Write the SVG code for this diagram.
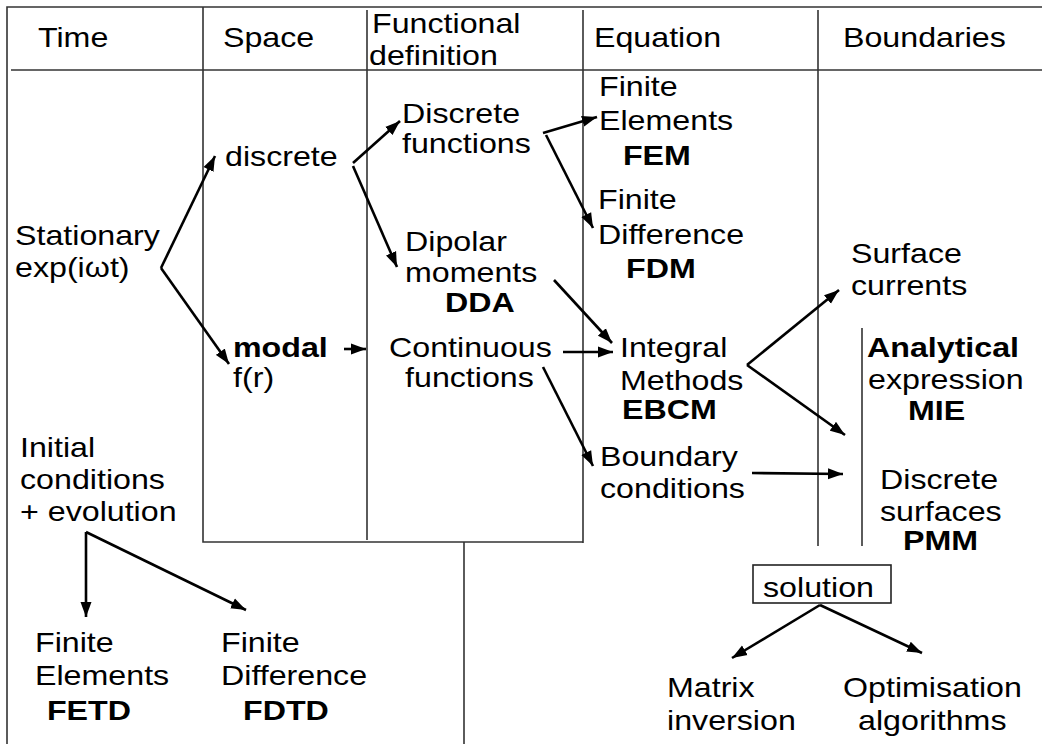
<svg xmlns="http://www.w3.org/2000/svg" width="1042" height="744" viewBox="0 0 1042 744">
  <style>
    text { font-family: "Liberation Sans", Arial, Helvetica, sans-serif; font-size: 28.5px; fill: #000; }
    .b { font-weight: bold; }
    .frame { stroke: #333; stroke-width: 1.6; fill: none; }
    .arrow { stroke: #000; stroke-width: 2.6; fill: none; marker-end: url(#head); }
  </style>
  <defs>
    <marker id="head" markerUnits="userSpaceOnUse" markerWidth="16" markerHeight="12" refX="15" refY="6" orient="auto">
      <path d="M0,0.5 L15,6 L0,11.5 z" fill="#000"/>
    </marker>
  </defs>
  <rect width="1042" height="744" fill="#fff"/>

  <!-- table grid -->
  <g id="grid" class="frame">
    <path d="M7,744 V7 H1042"/>
    <path d="M11,70 H1042"/>
    <path d="M203,7 V542 H583"/>
    <path d="M367,10 V540"/>
    <path d="M583,10 V543"/>
    <path d="M464,542 V744"/>
    <path d="M818,10 V546"/>
    <path d="M862,328 V546"/>
  </g>

  <!-- column headings -->
  <g id="headings">
    <text transform="translate(38 47) scale(1.13 1)">Time</text>
    <text transform="translate(223 47) scale(1.13 1)">Space</text>
    <text transform="translate(372 33) scale(1.13 1)"><tspan x="0" y="0">Functional</tspan><tspan x="-2.6" y="32">definition</tspan></text>
    <text transform="translate(594 47) scale(1.13 1)">Equation</text>
    <text transform="translate(843 47) scale(1.13 1)">Boundaries</text>
  </g>

  <!-- nodes -->
  <g id="stationary">
    <text transform="translate(15 245) scale(1.13 1)"><tspan x="0" y="0">Stationary</tspan><tspan x="0" y="32">exp(iωt)</tspan></text>
  </g>
  <g id="discrete">
    <text transform="translate(225 166) scale(1.13 1)">discrete</text>
  </g>
  <g id="modal">
    <text transform="translate(233 357) scale(1.13 1)"><tspan class="b" x="0" y="0">modal</tspan><tspan x="0" y="30">f(r)</tspan></text>
  </g>
  <g id="discrete-functions">
    <text transform="translate(402 123) scale(1.13 1)"><tspan x="0" y="0">Discrete</tspan><tspan x="0" y="30">functions</tspan></text>
  </g>
  <g id="dipolar">
    <text transform="translate(405 251) scale(1.13 1)"><tspan x="0" y="0">Dipolar</tspan><tspan x="0" y="31">moments</tspan><tspan class="b" x="35.4" y="61">DDA</tspan></text>
  </g>
  <g id="continuous-functions">
    <text transform="translate(389 357) scale(1.13 1)"><tspan x="0" y="0">Continuous</tspan><tspan x="14.2" y="30">functions</tspan></text>
  </g>
  <g id="fem">
    <text transform="translate(599 96) scale(1.13 1)"><tspan x="0" y="0">Finite</tspan><tspan x="0" y="34">Elements</tspan><tspan class="b" x="21.2" y="69">FEM</tspan></text>
  </g>
  <g id="fdm">
    <text transform="translate(598 209) scale(1.13 1)"><tspan x="0" y="0">Finite</tspan><tspan x="0" y="35">Difference</tspan><tspan class="b" x="24.8" y="69">FDM</tspan></text>
  </g>
  <g id="integral">
    <text transform="translate(620 357) scale(1.13 1)"><tspan x="0" y="0">Integral</tspan><tspan x="0" y="33">Methods</tspan><tspan class="b" x="1.8" y="62">EBCM</tspan></text>
  </g>
  <g id="boundary-conditions">
    <text transform="translate(600 466) scale(1.13 1)"><tspan x="0" y="0">Boundary</tspan><tspan x="0" y="32">conditions</tspan></text>
  </g>
  <g id="surface-currents">
    <text transform="translate(851 263) scale(1.13 1)"><tspan x="0" y="0">Surface</tspan><tspan x="0" y="32">currents</tspan></text>
  </g>
  <g id="analytical">
    <text transform="translate(867 357) scale(1.13 1)"><tspan class="b" x="0" y="0">Analytical</tspan><tspan x="0.9" y="32">expression</tspan><tspan class="b" x="36.3" y="63">MIE</tspan></text>
  </g>
  <g id="discrete-surfaces">
    <text transform="translate(880 489) scale(1.13 1)"><tspan x="0" y="0">Discrete</tspan><tspan x="0" y="32">surfaces</tspan><tspan class="b" x="20.4" y="61">PMM</tspan></text>
  </g>
  <g id="initial-conditions">
    <text transform="translate(20 457) scale(1.13 1)"><tspan x="0" y="0">Initial</tspan><tspan x="0" y="32">conditions</tspan><tspan x="0" y="64">+ evolution</tspan></text>
  </g>
  <g id="fetd">
    <text transform="translate(35 652) scale(1.13 1)"><tspan x="0" y="0">Finite</tspan><tspan x="0" y="33">Elements</tspan><tspan class="b" x="10.6" y="68">FETD</tspan></text>
  </g>
  <g id="fdtd">
    <text transform="translate(221 652) scale(1.13 1)"><tspan x="0" y="0">Finite</tspan><tspan x="0" y="33">Difference</tspan><tspan class="b" x="19.5" y="68">FDTD</tspan></text>
  </g>
  <g id="solution">
    <rect x="753" y="565" width="138" height="38" fill="none" stroke="#222" stroke-width="1.6"/>
    <text transform="translate(763 597) scale(1.13 1)">solution</text>
  </g>
  <g id="matrix-inversion">
    <text transform="translate(667 697) scale(1.13 1)"><tspan x="0" y="0">Matrix</tspan><tspan x="0" y="33">inversion</tspan></text>
  </g>
  <g id="optimisation">
    <text transform="translate(843 697) scale(1.13 1)"><tspan x="0" y="0">Optimisation</tspan><tspan x="13.3" y="33">algorithms</tspan></text>
  </g>

  <!-- connectors -->
  <g id="connectors">
    <line class="arrow" x1="161" y1="268" x2="215" y2="156"/>
    <line class="arrow" x1="161" y1="268" x2="229" y2="364"/>
    <line class="arrow" x1="353" y1="163" x2="400" y2="121"/>
    <line class="arrow" x1="353" y1="166" x2="397" y2="267"/>
    <line class="arrow" x1="344" y1="349" x2="366" y2="349"/>
    <line class="arrow" x1="543" y1="133" x2="597" y2="117"/>
    <line class="arrow" x1="546" y1="135" x2="593" y2="228"/>
    <line class="arrow" x1="554" y1="280" x2="612" y2="343"/>
    <line class="arrow" x1="563" y1="352" x2="613" y2="352"/>
    <line class="arrow" x1="747" y1="365" x2="839" y2="290"/>
    <line class="arrow" x1="747" y1="365" x2="845" y2="435"/>
    <line class="arrow" x1="543" y1="367" x2="593" y2="466"/>
    <line class="arrow" x1="752" y1="473" x2="843" y2="474"/>
    <line class="arrow" x1="820" y1="605" x2="732" y2="658"/>
    <line class="arrow" x1="820" y1="605" x2="922" y2="653"/>
    <line class="arrow" x1="86" y1="532" x2="86" y2="617"/>
    <line class="arrow" x1="86" y1="532" x2="246" y2="610"/>
  </g>
</svg>
